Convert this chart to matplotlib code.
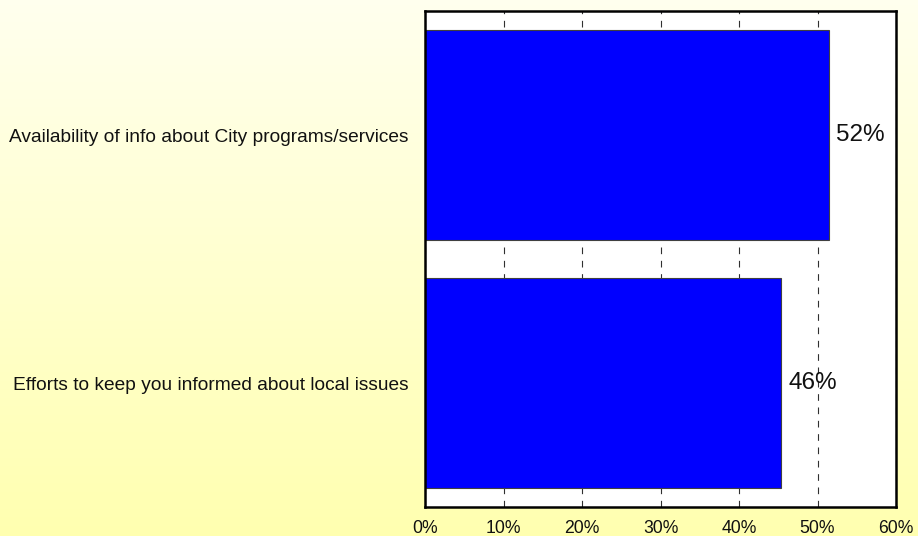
import matplotlib
matplotlib.use("Agg")
import matplotlib.pyplot as plt
import numpy as np

categories = ["Availability of info about City programs/services",
              "Efforts to keep you informed about local issues"]
values = [51.5, 45.4]
value_labels = ["52%", "46%"]
xticks = [0, 10, 20, 30, 40, 50, 60]
xtick_labels = ["0%", "10%", "20%", "30%", "40%", "50%", "60%"]

plt.rcParams['font.family'] = ['Liberation Sans', 'DejaVu Sans']

fig = plt.figure(figsize=(9.18, 5.36), dpi=100)

# background vertical gradient
bg = fig.add_axes([0, 0, 1, 1], zorder=-10)
grad = np.linspace(0, 1, 256).reshape(-1, 1)
top = np.array([1.0, 1.0, 0.935])
bot = np.array([1.0, 1.0, 0.69])
img = top[None, None, :] * (1 - grad[:, :, None]) + bot[None, None, :] * grad[:, :, None]
bg.imshow(img, aspect='auto', extent=[0, 1, 0, 1])
bg.axis('off')

ax = fig.add_axes([425/918, 1 - 507/536, (896-425)/918, (507-11)/536])
ax.set_facecolor('white')
ypos = [1, 0]
ax.barh(ypos, values, height=0.85, color='#0000FF', edgecolor='#404040',
        linewidth=0.8, zorder=3)
for y, v, lab in zip(ypos, values, value_labels):
    ax.annotate(lab, (v, y), xytext=(5, 0), textcoords='offset points',
                va='center', ha='left', fontsize=17.5, color='#111111', zorder=4)

ax.set_xlim(0, 60)
ax.set_ylim(-0.5, 1.5)
ax.set_xticks(xticks)
ax.set_xticklabels(xtick_labels, fontsize=12.7, color='#111111')
ax.set_yticks(ypos)
ax.set_yticklabels(categories, fontsize=13.75, color='#111111')
ax.tick_params(axis='both', length=0)
ax.tick_params(axis='x', pad=9.5)
ax.tick_params(axis='y', pad=12)
ax.xaxis.grid(True, linestyle=(0, (6, 6)), color='#303030', linewidth=0.8, zorder=1)
ax.set_axisbelow(True)
for s in ax.spines.values():
    s.set_linewidth(1.8)
    s.set_color('black')
    s.set_zorder(5)

fig.savefig("out.png", dpi=100)
